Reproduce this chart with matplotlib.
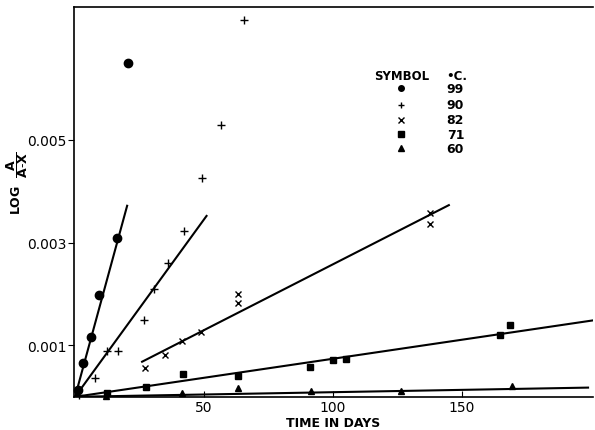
import numpy as np
import matplotlib.pyplot as plt

# readings, per temperature (deg C)
temps = ['99', '90', '82', '71', '60']
markers = ['o', '+', 'x', 's', '^']

days_99 = [1.3, 2.9, 6.1, 9.2, 16.3, 20.6]
logv_99 = [0.00013, 0.00066, 0.00117, 0.00199, 0.00309, 0.0065]

days_90 = [1.5, 7.9, 12.2, 16.5, 26.7, 30.6, 36.1, 42.2, 49.1, 56.5, 65.7]
logv_90 = [0.00003, 0.00037, 0.00090, 0.00090, 0.00149, 0.00210, 0.00260,
           0.00322, 0.00425, 0.00529, 0.00734]

days_82 = [27.3, 34.8, 41.6, 48.8, 63.1, 63.1, 137.8, 137.8]
logv_82 = [0.00057, 0.00081, 0.00109, 0.00126, 0.00200, 0.00182, 0.00358, 0.00336]

days_71 = [12.2, 27.7, 41.7, 63.1, 91.2, 100.2, 105.2, 165.0, 168.9]
logv_71 = [0.00008, 0.00020, 0.00044, 0.00040, 0.00058, 0.00072, 0.00074,
           0.00121, 0.00139]

days_60 = [12.0, 41.6, 63.1, 91.6, 126.4, 169.5]
logv_60 = [0.00002, 0.00008, 0.00018, 0.00012, 0.00012, 0.00021]

# fitted straight lines
fit_start = [0, 0, 26, 0, 0]
fit_end = [20.2, 51, 145, 201, 199]
fit_slope = [0.000184, 0.000069, 0.0000256, 0.0000074, 0.0000009]
fit_icpt = [0, 0, 0.000017, 0, 0]

days = [days_99, days_90, days_82, days_71, days_60]
logv = [logv_99, logv_90, logv_82, logv_71, logv_60]

plt.rcParams['font.family'] = 'DejaVu Sans'
fig = plt.figure(figsize=(5.95, 4.31), dpi=100)
ax = fig.add_axes([0.124, 0.077, 0.873, 0.904])

for i in range(5):
    xs = np.array([fit_start[i], fit_end[i]])
    ax.plot(xs, fit_icpt[i] + fit_slope[i] * xs, color='black', lw=1.5, zorder=2)
    ms = {'o': 6, '+': 6, 'x': 5, 's': 5, '^': 5}[markers[i]]
    ax.plot(days[i], logv[i], linestyle='none', marker=markers[i], color='black',
            markersize=ms, markeredgewidth=1.0, zorder=3, clip_on=False)

ax.set_xlim(-0.5, 201)
ax.set_ylim(0, 0.00758)
ax.set_xticks([50, 100, 150])
ax.set_xticklabels(['50', '100', '150'])
ax.set_yticks([0.001, 0.003, 0.005])
ax.set_yticklabels(['0.001', '0.003', '0.005'])
ax.tick_params(axis='x', direction='in', length=4, labelsize=10, pad=2)
ax.tick_params(axis='y', direction='out', length=4, labelsize=10, pad=1)
ax.spines['right'].set_visible(False)
for s in ['left', 'bottom', 'top']:
    ax.spines[s].set_linewidth(1.2)

ax.set_xlabel('TIME IN DAYS', fontsize=9, fontweight='bold', labelpad=2)
ax.set_ylabel(r'LOG  $\mathbf{\dfrac{A}{A\text{-}X}}$', fontsize=9,
              fontweight='bold', labelpad=2)
ax.yaxis.set_label_coords(-0.085, 0.55)

# hand-made key
ax.text(0.632, 0.824, 'SYMBOL', transform=ax.transAxes, ha='center', va='center',
        fontsize=8.5, fontweight='bold')
ax.text(0.718, 0.824, '\u2022C.', transform=ax.transAxes, ha='left', va='center',
        fontsize=8.5, fontweight='bold')
key_y = [0.792, 0.749, 0.711, 0.674, 0.638]
for i in range(5):
    ax.plot([0.629], [key_y[i]], marker=markers[i], color='black', markersize=4,
            markeredgewidth=1.0, transform=ax.transAxes, linestyle='none')
    ax.text(0.718, key_y[i], temps[i], transform=ax.transAxes, ha='left',
            va='center', fontsize=9, fontweight='bold')

fig.savefig('out.png', dpi=100)
